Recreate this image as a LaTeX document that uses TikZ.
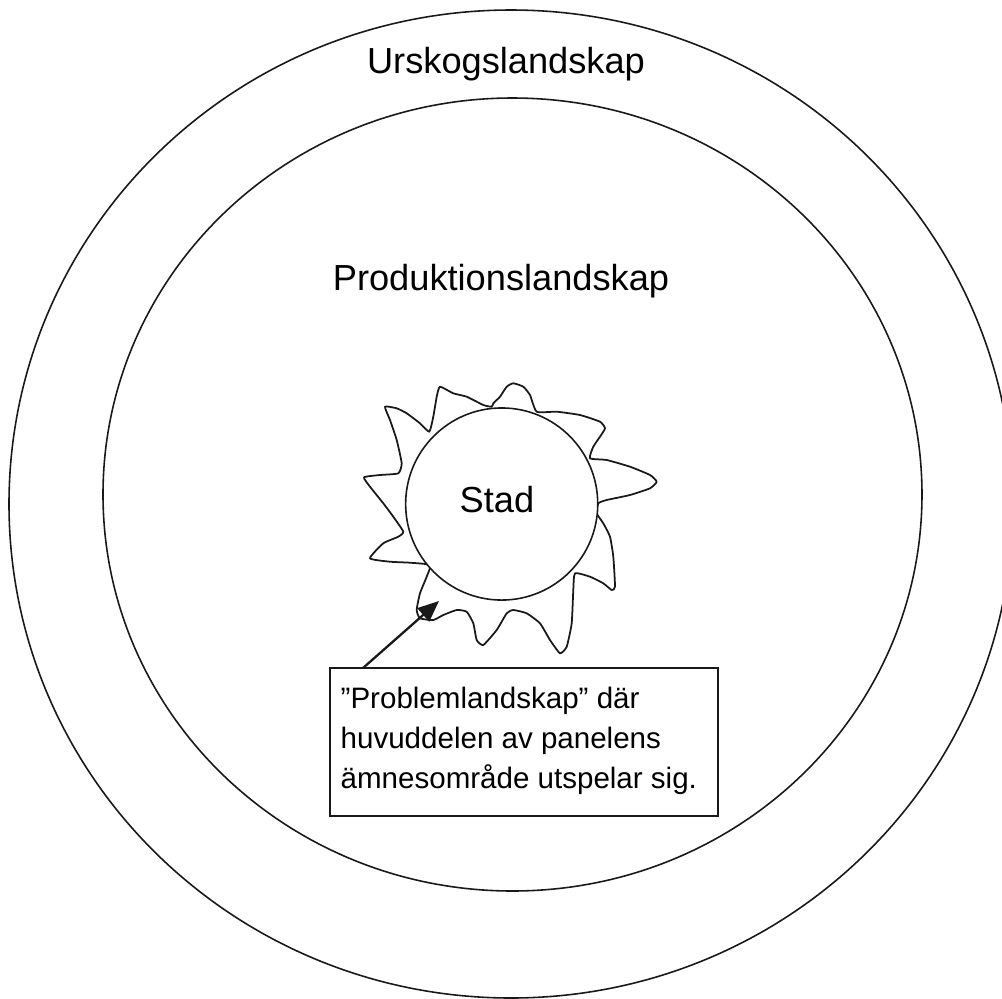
\documentclass[tikz,border=0pt]{standalone}
\usepackage{fontspec}
\setmainfont{Liberation Sans}
\usetikzlibrary{arrows.meta}
\begin{document}
\begin{tikzpicture}[x=0.01cm, y=-0.01cm,
  ring/.style={draw=black!90, line width=0.45pt},
  fringe/.style={draw=black!90, line width=0.5pt, line join=round},
  label/.style={font=\fontsize{10.3}{12}\selectfont, inner sep=0pt, anchor=base},
  notebox/.style={draw=black!90, line width=0.6pt, rectangle, inner sep=0pt},
  notetext/.style={font=\fontsize{8.4}{11.4}\selectfont, align=left, inner sep=0pt, anchor=north west},
  pointer/.style={draw=black!90, line width=0.65pt, -{Triangle[length=6pt, width=5pt]}}]
  % page
  \path[fill=white, use as bounding box] (0,0) rectangle (1002,999);
  \begin{scope}
    \clip (0,0) rectangle (1002,999);
    % landscape zones
    \draw[ring] (511,504) ellipse [x radius=502, y radius=494];
    \draw[ring] (512.5,494.5) ellipse [x radius=409.5, y radius=396.5];
  \end{scope}
  % ragged urban fringe around the city
  \draw[fringe] plot[smooth cycle, tension=0.3] coordinates {
    (491.7,406.7) (483.3,405) (466.7,396.7) (453.3,393.3) (440,386.7)
    (436.7,396.7) (433.3,416.7) (429.3,431.7) (420,423.3) (406.7,413.3)
    (396.7,408.3) (385,406.7) (390,420) (396.7,440) (401.7,463.3)
    (398.3,473.3) (380,475) (364,477.3) (370,486.7) (383.3,503.3)
    (393.3,516.7) (403.3,531.7) (398.3,536.7) (383.3,543.3) (370,558.3)
    (390,561.7) (410,562.7) (430,565) (426.7,576.7) (420,593.3)
    (416.7,610) (420,618.3) (433.3,620) (443.3,615) (456.7,610)
    (466.7,611.7) (473.3,623.3) (476.7,640) (483.3,645) (496.7,630)
    (506.7,613.3) (513.3,610) (526.7,613.3) (540,623.3) (550,640)
    (560,653.3) (566.7,646.7) (571.7,623.3) (573.3,590) (575,573.3)
    (590,576.7) (603.3,583.3) (611.7,590) (615,586.7) (613.3,556.7)
    (610,536.7) (603.3,523.3) (596.7,513.3) (598.3,503.3) (606.7,500)
    (630,495) (650,488.3) (656.7,481.7) (650,475) (630,466.7)
    (606.7,460) (590,458.3) (593.3,446.7) (600,436.7) (605,428.3)
    (600,421.7) (580,415) (556.7,411.7) (536.7,411.7) (530,395)
    (523.3,386.7) (513.3,383.3) (506.7,386.7) (500,396.7) (493.3,403.3)};
  % city core
  \node[ring, circle, fill=white, minimum size=1.92cm, inner sep=0pt] (city) at (501.7,504) {};
  % zone labels
  \node[label] (urskog) at (506,73) {Urskogslandskap};
  \node[label] (produktion) at (501,290) {Produktionslandskap};
  \node[label] (stad) at (497,512) {Stad};
  % annotation
  \node[notebox, minimum width=3.88cm, minimum height=1.48cm] (note) at (524,742) {};
  \node[notetext] (notetxt) at (340,686) {”Problemlandskap” där\\huvuddelen av panelens\\ämnesområde utspelar sig.};
  \coordinate (foot) at (363,668);
  \coordinate (tip) at (439,601);
  \draw[pointer] (foot) -- (tip);
\end{tikzpicture}
\end{document}
